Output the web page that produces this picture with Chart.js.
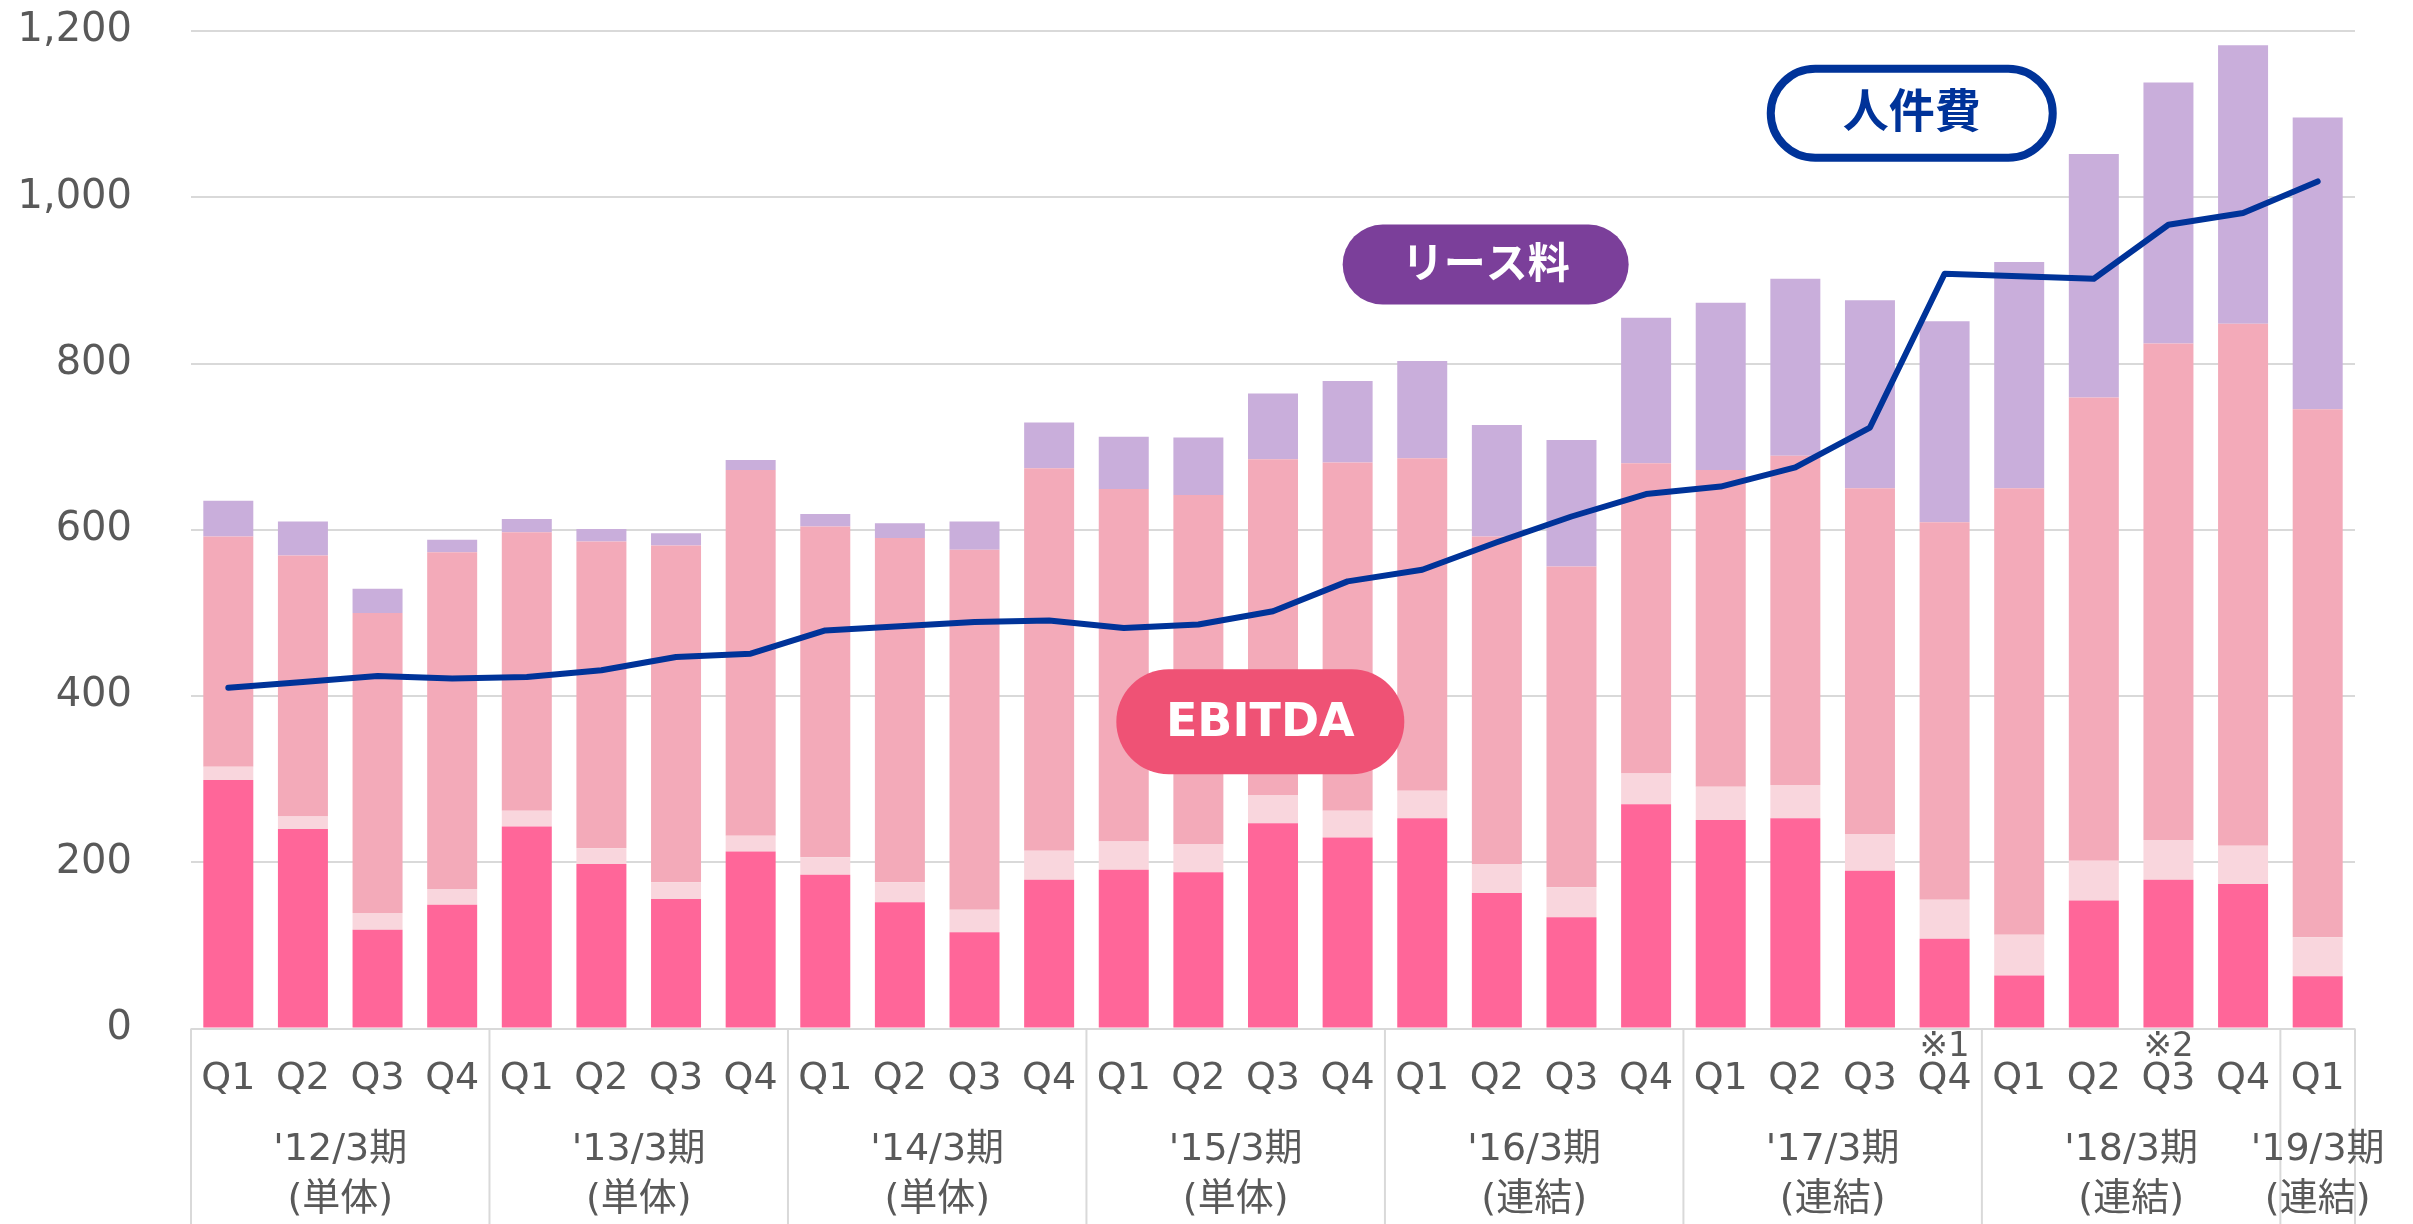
<!DOCTYPE html>
<html>
<head>
<meta charset="utf-8">
<script src="https://cdn.jsdelivr.net/npm/chart.js@4.4.1/dist/chart.umd.min.js"></script>
<style>
  html, body { margin: 0; padding: 0; background: #fff; }
  #wrap { width: 2413px; height: 1224px; }
</style>
</head>
<body>
<div id="wrap"><canvas id="chart"></canvas></div>
<script>
// quarter labels along the x axis
var quarters = ['Q1','Q2','Q3','Q4','Q1','Q2','Q3','Q4','Q1','Q2','Q3','Q4','Q1','Q2','Q3','Q4',
                'Q1','Q2','Q3','Q4','Q1','Q2','Q3','Q4','Q1','Q2','Q3','Q4','Q1'];
// fiscal periods under the quarters
var periodLabels = ["'12/3期", "'13/3期", "'14/3期", "'15/3期", "'16/3期", "'17/3期", "'18/3期", "'19/3期"];
var periodTypes = ['(単体)', '(単体)', '(単体)', '(単体)', '(連結)', '(連結)', '(連結)', '(連結)'];
var periodSizes = [4, 4, 4, 4, 4, 4, 4, 1];
// footnote marks above some quarters
var noteIndex = [23, 26];
var noteText = ['※1', '※2'];

// stacked bar segments (bottom to top)
var ebitda = [299, 240, 119, 149, 243, 198, 156, 213, 185, 152, 116, 179, 191, 188, 247, 230,
              253, 163, 134, 270, 251, 253, 190, 108, 64, 154, 179, 174, 63];
var segLight = [16, 15, 20, 19, 19, 19, 20, 19, 21, 24, 27, 35, 34, 34, 34, 32,
                33, 35, 36, 37, 40, 40, 44, 47, 49, 48, 48, 46, 47];
var segMid = [277, 314, 361, 405, 335, 369, 405, 440, 398, 414, 433, 460, 424, 420, 404, 419,
              400, 394, 386, 373, 381, 396, 416, 454, 537, 557, 597, 628, 635];
var lease = [43, 41, 29, 15, 16, 15, 15, 12, 15, 18, 34, 55, 63, 69, 79, 98,
             117, 134, 152, 175, 201, 213, 226, 242, 272, 293, 314, 335, 351];
// line
var personnel = [410, 417, 424, 421, 423, 431, 447, 451, 479, 484, 489, 491, 482, 486, 502, 538,
                 552, 585, 616, 643, 652, 675, 723, 908, 905, 902, 967, 981, 1019];

var FONT = "'DejaVu Sans', 'Noto Sans CJK JP', sans-serif";
var TEXT = '#595959';
var GRID = '#D9D9D9';

function pill(ctx, cx, cy, w, h, fill, stroke, lw, text, color, font) {
    ctx.beginPath();
    ctx.roundRect(cx - w / 2, cy - h / 2, w, h, h / 2);
    ctx.fillStyle = fill;
    ctx.fill();
    if (stroke) {
        ctx.lineWidth = lw;
        ctx.strokeStyle = stroke;
        ctx.stroke();
    }
    ctx.fillStyle = color;
    ctx.font = font;
    ctx.textAlign = 'center';
    ctx.textBaseline = 'middle';
    ctx.fillText(text, cx, cy + 2);
}

// group separators, period labels, notes and callout boxes
Chart.register({
    id: 'decor',
    afterDatasetsDraw: function(chart) {
        var ctx = chart.ctx;
        var x = chart.scales.x, y = chart.scales.y;
        var bottom = chart.chartArea.bottom;
        ctx.save();

        var edges = [x.getPixelForValue(-0.5)];
        var acc = 0;
        periodSizes.forEach(function(n) {
            acc += n;
            edges.push(x.getPixelForValue(acc - 0.5));
        });
        ctx.strokeStyle = GRID;
        ctx.lineWidth = 2;
        edges.forEach(function(px) {
            ctx.beginPath();
            ctx.moveTo(px, bottom);
            ctx.lineTo(px, chart.height);
            ctx.stroke();
        });

        ctx.fillStyle = TEXT;
        ctx.textAlign = 'center';
        ctx.textBaseline = 'middle';
        ctx.font = '38px ' + FONT;
        periodLabels.forEach(function(lbl, k) {
            var cx = (edges[k] + edges[k + 1]) / 2;
            ctx.fillText(lbl, cx, bottom + 122);
            ctx.fillText(periodTypes[k], cx, bottom + 172);
        });

        ctx.font = '34px ' + FONT;
        noteIndex.forEach(function(idx, k) {
            ctx.fillText(noteText[k], x.getPixelForValue(idx), bottom + 19);
        });

        pill(ctx, x.getPixelForValue(22.56), y.getPixelForValue(1101), 282, 89,
             '#FFFFFF', '#003399', 8, '人件費', '#003399', 'bold 46px ' + FONT);
        pill(ctx, x.getPixelForValue(16.85), y.getPixelForValue(919), 286, 80,
             '#7B3F9A', null, 0, 'リース料', '#FFFFFF', 'bold 42px ' + FONT);
        pill(ctx, x.getPixelForValue(13.83), y.getPixelForValue(369), 288, 105,
             '#EF5275', null, 0, 'EBITDA', '#FFFFFF', 'bold 46px ' + FONT);
        ctx.restore();
    }
});

var ctx = document.getElementById('chart').getContext('2d');
var chart = new Chart(ctx, {
    type: 'bar',
    data: {
        labels: quarters,
        datasets: [
            { type: 'line', label: '人件費', data: personnel, borderColor: '#003399', borderWidth: 6,
              pointRadius: 0, tension: 0, fill: false, stack: 'line', order: 0,
              borderCapStyle: 'round', borderJoinStyle: 'round' },
            { label: 'EBITDA', data: ebitda, backgroundColor: '#FF6699', stack: 'bars', order: 1 },
            { label: 'light', data: segLight, backgroundColor: '#F9D6DD', stack: 'bars', order: 1 },
            { label: 'mid', data: segMid, backgroundColor: '#F3AAB9', stack: 'bars', order: 1 },
            { label: 'リース料', data: lease, backgroundColor: '#C9AEDB', stack: 'bars', order: 1 }
        ]
    },
    options: {
        responsive: true,
        maintainAspectRatio: false,
        devicePixelRatio: 1,
        animation: false,
        layout: { padding: { top: 31, right: 58, left: 0, bottom: 0 } },
        datasets: { bar: { barPercentage: 0.67, categoryPercentage: 1.0 } },
        scales: {
            x: {
                stacked: true,
                grid: { display: false, drawTicks: false },
                border: { display: false },
                ticks: { color: TEXT, font: { family: FONT, size: 38 }, padding: 28,
                         autoSkip: false, maxRotation: 0 },
                afterFit: function(scale) { scale.height = 195.4; }
            },
            y: {
                stacked: true,
                min: 0,
                max: 1200,
                // invisible tick marks push the labels away from the plot
                grid: { color: GRID, lineWidth: 2, drawTicks: true, tickLength: 59,
                        tickColor: 'rgba(0,0,0,0)' },
                border: { display: false },
                ticks: { stepSize: 200, color: TEXT, font: { family: FONT, size: 40 }, padding: 0,
                         callback: function(v) { return v.toLocaleString('en-US'); } },
                afterFit: function(scale) { scale.width = 191; }
            }
        },
        plugins: {
            legend: { display: false },
            tooltip: { enabled: false }
        }
    }
});
</script>
</body>
</html>
